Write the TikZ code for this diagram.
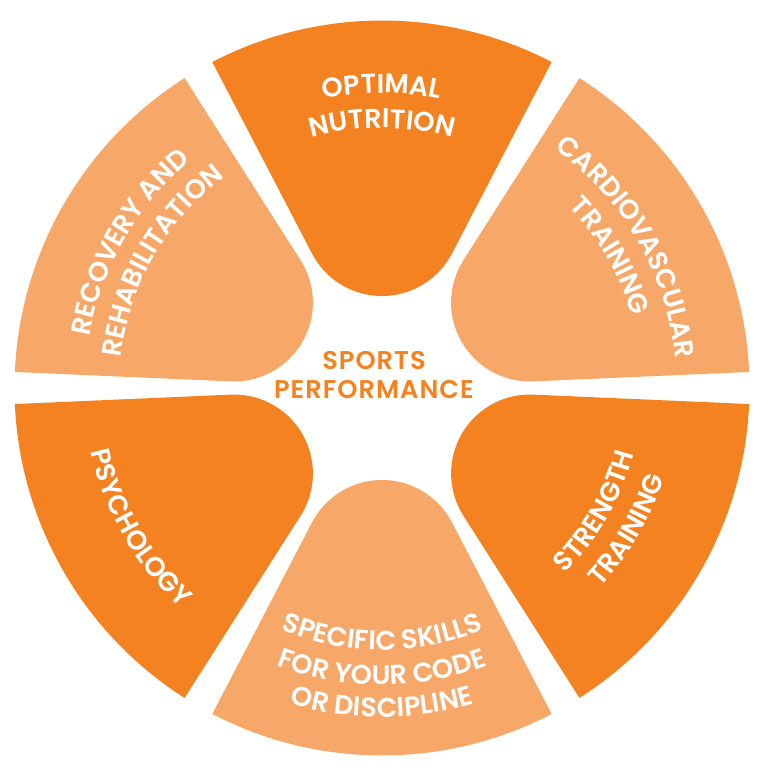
\documentclass[tikz,border=0pt]{standalone}
\usepackage{fontspec}
\setmainfont{Poppins}[BoldFont={Poppins SemiBold}]
\usetikzlibrary{decorations.text}

\definecolor{wheeldark}{HTML}{F58220}
\definecolor{wheellight}{HTML}{F7A869}

% one segment of the wheel: #1 axis angle, #2 colour
\newcommand{\petal}[2]{%
  \fill[#2] (#1+27.5:7.35) -- (#1+27.5:3.032)
    arc[start angle=#1+117.5, end angle=#1+242.5, radius=1.578]
    -- (#1-27.5:7.35)
    arc[start angle=#1-27.5, end angle=#1+27.5, radius=7.35] -- cycle;}

\newcommand{\wheelfont}{\fontsize{15.4}{18}\selectfont\bfseries\color{white}}

% white label set on an arc round the hub: #1 radius, #2 from, #3 to, #4 text
\newcommand{\arclabel}[4]{%
  \path[decorate, decoration={text along path, text align=center,
      text={|\wheelfont|#4}}]
    (#2:#1) arc[start angle=#2, end angle=#3, radius=#1];}

\begin{document}
\begin{tikzpicture}
\useasboundingbox (-7.64,-7.64) rectangle (7.72,7.76);

% Optimal Nutrition
\petal{90}{wheeldark}
\arclabel{5.90}{130}{50}{OPTIMAL}
\arclabel{5.20}{130}{50}{NUTRITION}

% Cardiovascular Training
\petal{30}{wheellight}
\arclabel{5.90}{70}{-10}{CARDIOVASCULAR}
\arclabel{5.20}{70}{-10}{TRAINING}

% Strength Training
\petal{-30}{wheeldark}
\arclabel{5.20}{-70}{10}{STRENGTH}
\arclabel{5.92}{-70}{10}{TRAINING}

% Specific Skills
\petal{-90}{wheellight}
\arclabel{5.24}{-130}{-50}{SPECIFIC SKILLS}
\arclabel{5.94}{-130}{-50}{FOR YOUR CODE}
\arclabel{6.58}{-130}{-50}{OR DISCIPLINE}

% Psychology
\petal{-150}{wheeldark}
\arclabel{5.96}{-190}{-110}{PSYCHOLOGY}

% Recovery and Rehabilitation
\petal{150}{wheellight}
\arclabel{5.94}{190}{110}{RECOVERY AND}
\arclabel{5.26}{190}{110}{REHABILITATION}

% Hub
\node[text=wheeldark, font=\fontsize{14.6}{17}\selectfont\bfseries\addfontfeature{LetterSpace=4}, align=center]
  (hub) at (-0.16,0.26) {SPORTS\\PERFORMANCE};
\end{tikzpicture}
\end{document}
